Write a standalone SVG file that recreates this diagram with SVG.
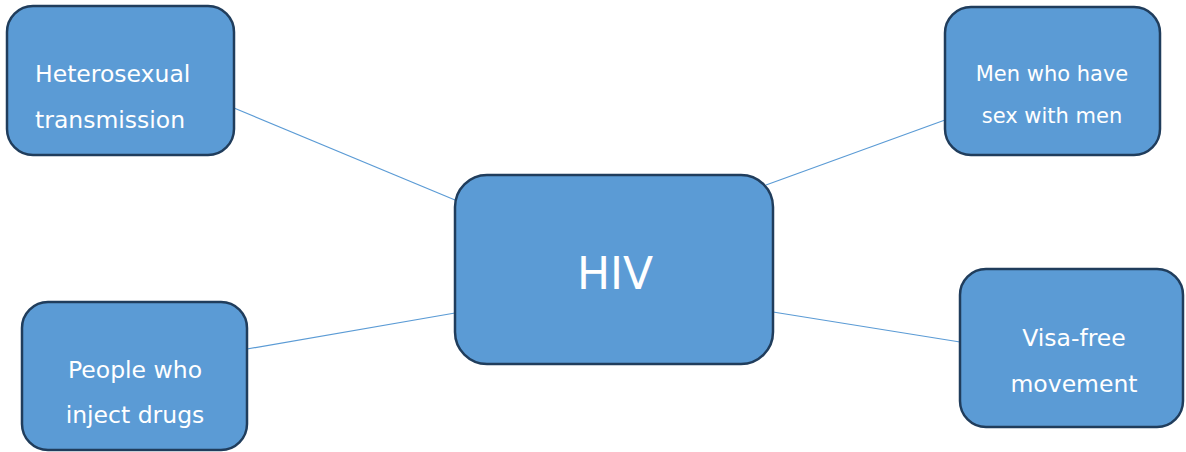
<svg xmlns="http://www.w3.org/2000/svg" width="1186" height="452" viewBox="0 0 1186 452">
<style>
.box{fill:#5b9bd5;stroke:#203d5c;stroke-width:2.5}
.t{font-family:"DejaVu Sans",Verdana,sans-serif;fill:#ffffff}
.c{stroke:#5b9bd5;stroke-width:1.2;fill:none}
</style>
<rect width="1186" height="452" fill="#ffffff"/>
<g id="connectors">
<line class="c" x1="234" y1="108" x2="455" y2="200"/>
<line class="c" x1="945" y1="120" x2="766" y2="185"/>
<line class="c" x1="247" y1="349" x2="455" y2="313"/>
<line class="c" x1="773" y1="312" x2="960" y2="342"/>
</g>
<g id="node-heterosexual">
<rect class="box" x="7" y="6" width="227" height="149" rx="26"/>
<text class="t" x="35" y="82" font-size="23.5">Heterosexual</text>
<text class="t" x="35" y="128" font-size="23.5">transmission</text>
</g>
<g id="node-msm">
<rect class="box" x="945" y="7" width="215" height="148" rx="26"/>
<text class="t" x="1052" y="81" font-size="21" text-anchor="middle">Men who have</text>
<text class="t" x="1052" y="123" font-size="21" text-anchor="middle">sex with men</text>
</g>
<g id="node-hiv">
<rect class="box" x="455" y="175" width="318" height="189" rx="32"/>
<text class="t" x="615" y="289" font-size="44" text-anchor="middle">HIV</text>
</g>
<g id="node-pwid">
<rect class="box" x="22" y="302" width="225" height="148" rx="26"/>
<text class="t" x="135" y="378" font-size="23.5" text-anchor="middle">People who</text>
<text class="t" x="135" y="423" font-size="23.5" text-anchor="middle">inject drugs</text>
</g>
<g id="node-visa">
<rect class="box" x="960" y="269" width="223" height="158" rx="26"/>
<text class="t" x="1074" y="346" font-size="23.5" text-anchor="middle">Visa-free</text>
<text class="t" x="1074" y="392" font-size="23.5" text-anchor="middle">movement</text>
</g>
</svg>
